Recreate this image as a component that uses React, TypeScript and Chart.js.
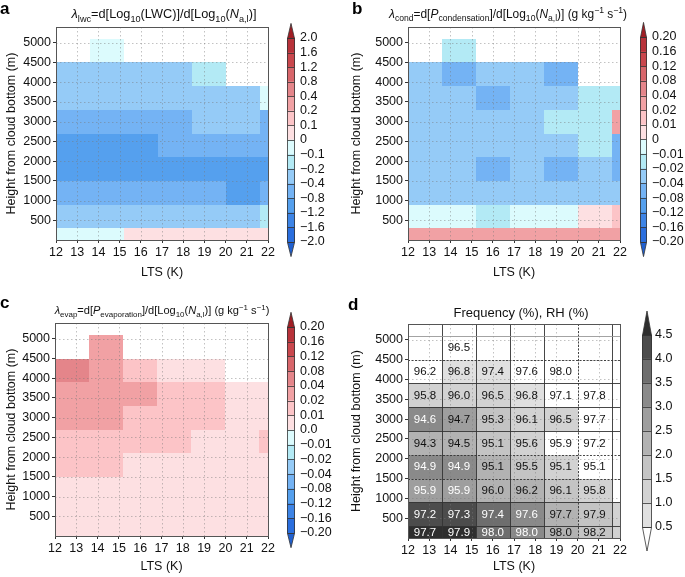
import React, { useEffect, useRef } from 'react';
import { Chart, registerables } from 'chart.js';

Chart.register(...registerables);
const FAMILY = "'Liberation Sans', Arial, Helvetica, sans-serif";
Chart.defaults.font.family = FAMILY;
Chart.defaults.color = '#111';

// ---------------- data ----------------
const ltsBinCenters = [12.8, 14.4, 16.0, 17.6, 19.2, 20.8, 22.4];
const ltsBinWidth = 1.6;
const heightBinCenters = [0, 600, 1200, 1800, 2400, 3000, 3600, 4200, 4800];
const heightBinWidth = 600;
const ltsTicks = [12, 13, 14, 15, 16, 17, 18, 19, 20, 21, 22];
const heightTicks = [500, 1000, 1500, 2000, 2500, 3000, 3500, 4000, 4500, 5000];

const levelsLwc = [-2.0, -1.6, -1.2, -0.8, -0.4, -0.2, -0.1, 0, 0.1, 0.2, 0.4, 0.8, 1.2, 1.6, 2.0];
const levelsRate = [-0.2, -0.16, -0.12, -0.08, -0.04, -0.02, -0.01, 0, 0.01, 0.02, 0.04, 0.08, 0.12, 0.16, 0.2];
const levelsFreq = [0.5, 1.0, 1.5, 2.0, 2.5, 3.0, 3.5, 4.0, 4.5];

// rows: bottom (0 m) to top (4800 m); columns: LTS bins
const lambdaLwc: (number | null)[][] = [
  [-0.05, -0.05, 0.05, 0.05, 0.05, 0.05, 0.05],
  [-0.3, -0.3, -0.3, -0.3, -0.3, -0.3, -0.15],
  [-0.6, -0.6, -0.6, -0.6, -0.6, -1.0, -0.6],
  [-1.0, -1.0, -1.0, -1.0, -1.0, -1.0, -1.0],
  [-1.0, -1.0, -1.0, -0.6, -0.6, -0.6, -0.6],
  [-0.6, -0.6, -0.6, -0.6, -0.3, -0.3, -0.6],
  [-0.3, -0.3, -0.3, -0.3, -0.3, -0.3, -0.05],
  [-0.3, -0.3, -0.3, -0.3, -0.15, null, null],
  [null, -0.05, null, null, null, null, null],
];

const lambdaCond: (number | null)[][] = [
  [0.03, 0.03, 0.03, 0.03, 0.03, 0.03, 0.03],
  [-0.005, -0.005, -0.015, -0.005, -0.005, 0.005, 0.015],
  [-0.03, -0.03, -0.03, -0.03, -0.03, -0.03, -0.03],
  [-0.03, -0.03, -0.06, -0.03, -0.06, -0.03, -0.06],
  [-0.03, -0.03, -0.03, -0.03, -0.03, -0.015, -0.06],
  [-0.03, -0.03, -0.03, -0.03, -0.015, -0.015, 0.03],
  [-0.03, -0.03, -0.06, -0.03, -0.03, -0.015, -0.015],
  [-0.03, -0.06, -0.03, -0.03, -0.06, null, null],
  [null, -0.015, null, null, null, null, null],
];

const lambdaEvap: (number | null)[][] = [
  [0.005, 0.005, 0.005, 0.005, 0.005, 0.005, 0.005],
  [0.005, 0.005, 0.005, 0.005, 0.005, 0.005, 0.005],
  [0.005, 0.005, 0.005, 0.005, 0.005, 0.005, 0.005],
  [0.015, 0.015, 0.005, 0.005, 0.005, 0.005, 0.005],
  [0.015, 0.015, 0.015, 0.015, 0.005, 0.005, 0.015],
  [0.03, 0.03, 0.015, 0.015, 0.015, 0.005, 0.005],
  [0.03, 0.03, 0.03, 0.015, 0.015, 0.005, 0.005],
  [0.06, 0.03, 0.015, 0.005, 0.005, null, null],
  [null, 0.03, null, null, null, null, null],
];

const frequency: (number | null)[][] = [
  [4.7, 4.6, 3.8, 3.3, 2.3, 1.7, 1.2],
  [4.2, 4.3, 3.8, 3.3, 2.3, 1.7, 1.2],
  [2.9, 2.9, 2.3, 2.2, 1.7, 1.2, 0.4],
  [3.2, 3.4, 2.2, 1.7, 1.2, 0.4, 0.3],
  [2.3, 2.2, 1.7, 1.3, 0.4, 0.3, null],
  [3.2, 2.6, 1.8, 1.3, 1.1, 0.4, null],
  [1.3, 1.2, 1.1, 0.9, 0.4, 0.3, null],
  [0.4, 0.8, 0.7, 0.4, 0.3, null, null],
  [null, 0.3, null, null, null, null, null],
];

const relHumidity: (number | null)[][] = [
  [97.7, 97.9, 98.0, 98.0, 98.0, 98.2, null],
  [97.2, 97.3, 97.4, 97.6, 97.7, 97.9, null],
  [95.9, 95.9, 96.0, 96.2, 96.1, 95.8, null],
  [94.9, 94.9, 95.1, 95.5, 95.1, 95.1, null],
  [94.3, 94.5, 95.1, 95.6, 95.9, 97.2, null],
  [94.6, 94.7, 95.3, 96.1, 96.5, 97.7, null],
  [95.8, 96.0, 96.5, 96.8, 97.1, 97.8, null],
  [96.2, 96.8, 97.4, 97.6, 98.0, null, null],
  [null, 96.5, null, null, null, null, null],
];

// ---------------- styles ----------------
const divergingColors = [
  '#2060d0', '#2a6ede', '#3d84e6', '#55a0ee', '#74b3f4', '#95cbf7', '#b3eaf5', '#dcfbfd',
  '#fde0e2', '#fcc4c7', '#f1a1a4', '#e4858a', '#d8666b', '#c9474d', '#b8323a', '#a01d24',
];
const greyColors = [
  '#ffffff', '#e0e0e0', '#d2d2d2', '#c4c4c4', '#b2b2b2', '#9e9e9e', '#8a8a8a', '#6e6e6e', '#4c4c4c', '#2e2e2e',
];

type Seg = { t: string; sub?: boolean; sup?: boolean; it?: boolean };

const titleA: Seg[] = [
  { t: 'λ', it: true }, { t: 'lwc', sub: true }, { t: '=d[Log' }, { t: '10', sub: true },
  { t: '(LWC)]/d[Log' }, { t: '10', sub: true }, { t: '(' }, { t: 'N', it: true }, { t: 'a,l', sub: true }, { t: ')]' },
];
const titleB: Seg[] = [
  { t: 'λ', it: true }, { t: 'cond', sub: true }, { t: '=d[' }, { t: 'P', it: true }, { t: 'condensation', sub: true },
  { t: ']/d[Log' }, { t: '10', sub: true }, { t: '(' }, { t: 'N', it: true }, { t: 'a,l', sub: true },
  { t: ')] (g kg' }, { t: '−1', sup: true }, { t: ' s' }, { t: '−1', sup: true }, { t: ')' },
];
const titleC: Seg[] = [
  { t: 'λ', it: true }, { t: 'evap', sub: true }, { t: '=d[' }, { t: 'P', it: true }, { t: 'evaporation', sub: true },
  { t: ']/d[Log' }, { t: '10', sub: true }, { t: '(' }, { t: 'N', it: true }, { t: 'a,l', sub: true },
  { t: ')] (g kg' }, { t: '−1', sup: true }, { t: ' s' }, { t: '−1', sup: true }, { t: ')' },
];
const titleD: Seg[] = [{ t: 'Frequency (%), RH (%)' }];

function fmtLevels(levels: number[], dec: number, zero: string) {
  return levels.map((v) => (v === 0 ? zero : (v < 0 ? '−' : '') + Math.abs(v).toFixed(dec)));
}

function binIndex(v: number, levels: number[]) {
  let i = 0;
  while (i < levels.length && v >= levels[i] - 1e-9) i++;
  return i;
}

function drawRich(ctx: CanvasRenderingContext2D, segs: Seg[], cx: number, baseline: number, base: number, targetW?: number) {
  const fontOf = (s: Seg, size: number) => `${s.it ? 'italic ' : ''}${s.sub || s.sup ? size * 0.72 : size}px ${FAMILY}`;
  const measure = (size: number) =>
    segs.reduce((w, s) => {
      ctx.font = fontOf(s, size);
      return w + ctx.measureText(s.t).width;
    }, 0);
  let size = base;
  if (targetW) size = (base * targetW) / measure(base);
  const w = measure(size);
  let x = cx - w / 2;
  ctx.textBaseline = 'alphabetic';
  ctx.textAlign = 'left';
  ctx.fillStyle = '#111';
  for (const s of segs) {
    ctx.font = fontOf(s, size);
    const dy = s.sub ? size * 0.28 : s.sup ? -size * 0.38 : 0;
    ctx.fillText(s.t, x, baseline + dy);
    x += ctx.measureText(s.t).width;
  }
}

type PanelSpec = {
  left: number; top: number; w: number; h: number;
  yAxisW: number; padTop: number; padR: number; xAxisH: number; xTitlePadB: number;
  values: (number | null)[][]; levels: number[]; colors: string[];
  title: Seg[]; titleSize: number; titleW?: number; titleCx: number; titleBase: number;
  letter: string; letterX: number; letterY: number;
  rh?: (number | null)[][];
};

const panels: PanelSpec[] = [
  {
    left: 0, top: 0, w: 285, h: 284, yAxisW: 56, padTop: 27, padR: 17, xAxisH: 44, xTitlePadB: 4,
    values: lambdaLwc, levels: levelsLwc, colors: divergingColors,
    title: titleA, titleSize: 12.5, titleW: 185, titleCx: 164, titleBase: 18,
    letter: 'a', letterX: 0, letterY: 14,
  },
  {
    left: 345, top: 0, w: 292, h: 284, yAxisW: 63, padTop: 27, padR: 17, xAxisH: 44, xTitlePadB: 4,
    values: lambdaCond, levels: levelsRate, colors: divergingColors,
    title: titleB, titleSize: 11.5, titleW: 238, titleCx: 508, titleBase: 18,
    letter: 'b', letterX: 352, letterY: 14,
  },
  {
    left: 0, top: 285, w: 285, h: 292, yAxisW: 55, padTop: 38, padR: 17, xAxisH: 41, xTitlePadB: 2.5,
    values: lambdaEvap, levels: levelsRate, colors: divergingColors,
    title: titleC, titleSize: 11, titleW: 215, titleCx: 162, titleBase: 314,
    letter: 'c', letterX: 0, letterY: 308,
  },
  {
    left: 345, top: 285, w: 292, h: 292, yAxisW: 63, padTop: 39, padR: 17, xAxisH: 39, xTitlePadB: 2.5,
    values: frequency, levels: levelsFreq, colors: greyColors,
    title: titleD, titleSize: 13, titleCx: 521, titleBase: 317,
    letter: 'd', letterX: 348, letterY: 310, rh: relHumidity,
  },
];

type CbSpec = {
  left: number; top: number; w: number; h: number; padL: number; padT: number; padB: number; axisW: number;
  levels: number[]; labels: string[]; colors: string[]; labelPad: number;
};

const colorbars: CbSpec[] = [
  { left: 280, top: 0, w: 60, h: 270, padL: 7, padT: 23.4, padB: 13.4, axisW: 45, levels: levelsLwc, labels: fmtLevels(levelsLwc, 1, '0'), colors: divergingColors, labelPad: 5 },
  { left: 633, top: 0, w: 52, h: 270, padL: 7, padT: 22.4, padB: 13.4, axisW: 38, levels: levelsRate, labels: fmtLevels(levelsRate, 2, '0'), colors: divergingColors, labelPad: 5 },
  { left: 280, top: 285, w: 60, h: 292, padL: 7, padT: 27.3, padB: 29.3, axisW: 45, levels: levelsRate, labels: fmtLevels(levelsRate, 2, '0.0'), colors: divergingColors, labelPad: 5 },
  { left: 635, top: 285, w: 50, h: 292, padL: 7, padT: 26, padB: 26, axisW: 33, levels: levelsFreq, labels: fmtLevels(levelsFreq, 1, '0'), colors: greyColors, labelPad: 3 },
];

function HeatPanel({ spec }: { spec: PanelSpec }) {
  const ref = useRef<HTMLCanvasElement>(null);
  useEffect(() => {
    const canvas = ref.current!;
    const plugin = {
      id: 'heatcells',
      beforeDatasetsDraw(chart: any) {
        const { ctx, chartArea: a } = chart;
        const xs = chart.scales.x;
        const ys = chart.scales.y;
        ctx.save();
        ctx.beginPath();
        ctx.rect(a.left, a.top, a.right - a.left, a.bottom - a.top);
        ctx.clip();
        spec.values.forEach((row, r) =>
          row.forEach((v, c) => {
            if (v === null) return;
            const xl = Math.round(xs.getPixelForValue(ltsBinCenters[c] - ltsBinWidth / 2));
            const xr = Math.round(xs.getPixelForValue(ltsBinCenters[c] + ltsBinWidth / 2));
            const yb = Math.round(ys.getPixelForValue(heightBinCenters[r] - heightBinWidth / 2));
            const yt = Math.round(ys.getPixelForValue(heightBinCenters[r] + heightBinWidth / 2));
            ctx.fillStyle = spec.colors[binIndex(v, spec.levels)];
            ctx.fillRect(xl, yt, xr - xl, yb - yt);
          })
        );
        ctx.restore();
      },
      afterDatasetsDraw(chart: any) {
        const { ctx, chartArea: a } = chart;
        const xs = chart.scales.x;
        const ys = chart.scales.y;
        ctx.save();
        ctx.beginPath();
        ctx.rect(a.left, a.top, a.right - a.left, a.bottom - a.top);
        ctx.clip();
        // dotted grid
        ctx.strokeStyle = 'rgba(120,120,120,0.45)';
        ctx.lineWidth = 1;
        ctx.setLineDash([1.5, 2.5]);
        ctx.beginPath();
        ltsTicks.forEach((v) => {
          const x = Math.round(xs.getPixelForValue(v)) + 0.5;
          ctx.moveTo(x, a.top);
          ctx.lineTo(x, a.bottom);
        });
        heightTicks.forEach((v) => {
          const y = Math.round(ys.getPixelForValue(v)) + 0.5;
          ctx.moveTo(a.left, y);
          ctx.lineTo(a.right, y);
        });
        ctx.stroke();
        ctx.setLineDash([]);
        if (spec.rh) {
          // cell boundaries
          ctx.lineWidth = 0.9;
          for (let c = 1; c < ltsBinCenters.length; c++) {
            const edge = ltsBinCenters[c] - ltsBinWidth / 2;
            const x = Math.round(xs.getPixelForValue(edge)) + 0.5;
            ctx.strokeStyle = '#333';
            ctx.setLineDash(Math.abs(edge - 20) < 0.01 ? [2, 1.5] : []);
            ctx.beginPath();
            ctx.moveTo(x, a.top);
            ctx.lineTo(x, a.bottom);
            ctx.stroke();
          }
          for (let r = 0; r < heightBinCenters.length; r++) {
            const edge = heightBinCenters[r] + heightBinWidth / 2;
            const y = Math.round(ys.getPixelForValue(edge)) + 0.5;
            ctx.strokeStyle = edge > 5000 ? '#999' : '#333';
            ctx.setLineDash(edge === 4500 || edge === 2100 || edge === 1500 ? [2, 1.5] : []);
            ctx.beginPath();
            ctx.moveTo(a.left, y);
            ctx.lineTo(a.right, y);
            ctx.stroke();
          }
          ctx.setLineDash([]);
          ctx.font = `11.5px ${FAMILY}`;
          ctx.textAlign = 'center';
          ctx.textBaseline = 'middle';
          spec.rh.forEach((row, r) =>
            row.forEach((v, c) => {
              if (v === null) return;
              const f = spec.values[r][c];
              const x = xs.getPixelForValue(ltsBinCenters[c]);
              const lo = Math.max(0, heightBinCenters[r] - heightBinWidth / 2);
              const hi = heightBinCenters[r] + heightBinWidth / 2;
              const y = ys.getPixelForValue((lo + hi) / 2);
              ctx.fillStyle = f !== null && f >= 2.8 ? '#ffffff' : '#111';
              ctx.fillText(v.toFixed(1), x, y + 0.5);
            })
          );
        }
        ctx.restore();
        // frame
        ctx.save();
        ctx.strokeStyle = '#555';
        ctx.lineWidth = 1;
        ctx.strokeRect(Math.round(a.left) + 0.5, Math.round(a.top) + 0.5, Math.round(a.right) - Math.round(a.left), Math.round(a.bottom) - Math.round(a.top));
        ctx.restore();
      },
      afterDraw(chart: any) {
        const { ctx } = chart;
        ctx.save();
        drawRich(ctx, spec.title, spec.titleCx - spec.left, spec.titleBase - spec.top, spec.titleSize, spec.titleW);
        ctx.font = `bold 17px ${FAMILY}`;
        ctx.fillStyle = '#000';
        ctx.textAlign = 'left';
        ctx.textBaseline = 'alphabetic';
        ctx.fillText(spec.letter, spec.letterX - spec.left, spec.letterY - spec.top);
        ctx.restore();
      },
    };
    const chart = new Chart(canvas, {
      type: 'scatter',
      data: { datasets: [{ data: [] }] },
      options: {
        animation: false,
        responsive: false,
        devicePixelRatio: 1,
        events: [],
        layout: { padding: { left: 0, right: spec.padR, top: spec.padTop, bottom: 0 } },
        plugins: { legend: { display: false }, tooltip: { enabled: false }, title: { display: false } },
        scales: {
          x: {
            type: 'linear',
            min: 12,
            max: 22,
            afterBuildTicks: (s: any) => {
              s.ticks = ltsTicks.map((v) => ({ value: v }));
            },
            afterFit: (s: any) => {
              s.height = spec.xAxisH;
            },
            ticks: { font: { size: 12.5 }, color: '#111', padding: 2, maxRotation: 0, autoSkip: false, callback: (v: any) => String(v) },
            grid: { drawOnChartArea: false, drawTicks: true, tickLength: 3, tickColor: '#333' },
            border: { display: false },
            title: { display: true, text: 'LTS (K)', font: { size: 12.5 }, color: '#111', padding: { top: 2, bottom: spec.xTitlePadB } },
          },
          y: {
            type: 'linear',
            min: 0,
            max: 5400,
            afterBuildTicks: (s: any) => {
              s.ticks = heightTicks.map((v) => ({ value: v }));
            },
            afterFit: (s: any) => {
              s.width = spec.yAxisW;
            },
            ticks: { font: { size: 12.5 }, color: '#111', padding: 2, autoSkip: false, callback: (v: any) => String(v) },
            grid: { drawOnChartArea: false, drawTicks: true, tickLength: 3, tickColor: '#333' },
            border: { display: false },
            title: { display: true, text: 'Height from cloud bottom (m)', font: { size: 12.5 }, color: '#111', padding: { top: 4, bottom: 2 } },
          },
        },
      } as any,
      plugins: [plugin],
    });
    return () => chart.destroy();
  }, []);
  return (
    <canvas
      ref={ref}
      width={spec.w}
      height={spec.h}
      style={{ position: 'absolute', left: spec.left, top: spec.top, width: spec.w, height: spec.h }}
    />
  );
}

function ColorBar({ spec }: { spec: CbSpec }) {
  const ref = useRef<HTMLCanvasElement>(null);
  useEffect(() => {
    const canvas = ref.current!;
    const L = spec.levels.length;
    const plugin = {
      id: 'cbdecor',
      afterDatasetsDraw(chart: any) {
        const { ctx, chartArea: a } = chart;
        const ys = chart.scales.y;
        const l = Math.round(a.left) + 0.5;
        const r = Math.round(a.right) - 0.5;
        const mid = (l + r) / 2;
        const y0 = Math.round(ys.getPixelForValue(0)) + 0.5;
        const yN = Math.round(ys.getPixelForValue(L - 1)) + 0.5;
        const yLo = ys.getPixelForValue(-1);
        const yHi = ys.getPixelForValue(L);
        ctx.save();
        ctx.strokeStyle = '#333';
        ctx.lineWidth = 0.8;
        // triangles
        ctx.fillStyle = spec.colors[0];
        ctx.beginPath();
        ctx.moveTo(l, y0);
        ctx.lineTo(r, y0);
        ctx.lineTo(mid, yLo);
        ctx.closePath();
        ctx.fill();
        ctx.stroke();
        ctx.fillStyle = spec.colors[L];
        ctx.beginPath();
        ctx.moveTo(l, yN);
        ctx.lineTo(r, yN);
        ctx.lineTo(mid, yHi);
        ctx.closePath();
        ctx.fill();
        ctx.stroke();
        // level separators
        ctx.beginPath();
        for (let i = 0; i < L; i++) {
          const y = Math.round(ys.getPixelForValue(i)) + 0.5;
          ctx.moveTo(l, y);
          ctx.lineTo(r, y);
        }
        ctx.moveTo(l, y0);
        ctx.lineTo(l, yN);
        ctx.moveTo(r, y0);
        ctx.lineTo(r, yN);
        ctx.stroke();
        ctx.restore();
      },
    };
    const chart = new Chart(canvas, {
      type: 'bar',
      data: {
        labels: [''],
        datasets: spec.colors.slice(1, L).map((c, i) => ({
          data: [[i, i + 1]],
          backgroundColor: c,
          borderWidth: 0,
          grouped: false,
          barPercentage: 1,
          categoryPercentage: 1,
        })),
      },
      options: {
        animation: false,
        responsive: false,
        devicePixelRatio: 1,
        events: [],
        layout: { padding: { left: spec.padL, right: 0, top: spec.padT, bottom: spec.padB } },
        plugins: { legend: { display: false }, tooltip: { enabled: false } },
        scales: {
          x: { display: false },
          y: {
            position: 'right',
            min: -1,
            max: L,
            afterBuildTicks: (s: any) => {
              s.ticks = spec.levels.map((_, i) => ({ value: i }));
            },
            afterFit: (s: any) => {
              s.width = spec.axisW;
            },
            ticks: {
              font: { size: 12.5 },
              color: '#111',
              padding: spec.labelPad,
              autoSkip: false,
              callback: (_v: any, idx: number) => spec.labels[idx],
            },
            grid: { display: false, drawTicks: false },
            border: { display: false },
          },
        },
      } as any,
      plugins: [plugin],
    });
    return () => chart.destroy();
  }, []);
  return (
    <canvas
      ref={ref}
      width={spec.w}
      height={spec.h}
      style={{ position: 'absolute', left: spec.left, top: spec.top, width: spec.w, height: spec.h }}
    />
  );
}

export default function App() {
  return (
    <div style={{ position: 'absolute', left: 0, top: 0, width: 685, height: 577, overflow: 'hidden', background: '#fff' }}>
      {panels.map((p) => (
        <HeatPanel key={p.letter} spec={p} />
      ))}
      {colorbars.map((c, i) => (
        <ColorBar key={i} spec={c} />
      ))}
    </div>
  );
}
